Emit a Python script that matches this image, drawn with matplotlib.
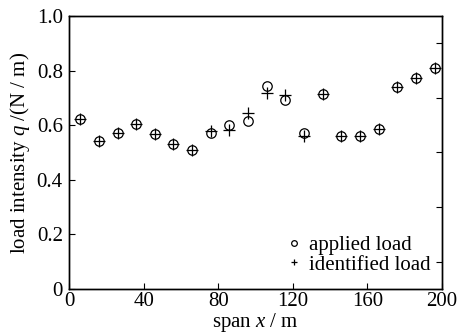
import matplotlib
matplotlib.use("Agg")
import matplotlib.pyplot as plt

plt.rcParams['font.family'] = ['Liberation Serif', 'DejaVu Serif']
plt.rcParams['mathtext.fontset'] = 'custom'
plt.rcParams['mathtext.rm'] = 'Liberation Serif'
plt.rcParams['mathtext.it'] = 'Liberation Serif:italic'

# span positions of the loaded elements (m)
span = [6, 16, 26, 36, 46, 56, 66, 76, 86, 96,
        106, 116, 126, 136, 146, 156, 166, 176, 186, 196]

# load applied to the structure (N/m)
applied = [0.623, 0.543, 0.572, 0.604, 0.566, 0.531, 0.510, 0.573, 0.599, 0.617,
           0.745, 0.693, 0.571, 0.714, 0.562, 0.562, 0.585, 0.739, 0.772, 0.811]

# load recovered by the identification (N/m)
identified = [0.623, 0.543, 0.572, 0.604, 0.566, 0.531, 0.510, 0.580, 0.582, 0.644,
              0.719, 0.711, 0.559, 0.714, 0.562, 0.562, 0.585, 0.739, 0.772, 0.811]

fig = plt.figure(figsize=(4.61, 3.33), dpi=100)
ax = fig.add_axes([0.1497, 0.1321, 0.8091, 0.8199])

ax.plot(span, applied, 'o', ms=6.8, mfc='none', mec='black', mew=0.9, label='applied load')
ax.plot(span, identified, '+', ms=8.0, color='black', mew=0.9, label='identified load')

ax.set_xlim(0, 200)
ax.set_ylim(0, 1.0)
ax.set_xticks([0, 40, 80, 120, 160, 200])
ax.set_yticks([0, 0.2, 0.4, 0.6, 0.8, 1.0])
ax.set_yticklabels(['0', '0.2', '0.4', '0.6', '0.8', '1.0'])
ax.tick_params(direction='in', length=4.5, width=0.8, labelsize=15,
               top=False, right=False)
ax.tick_params(axis='x', pad=2)
ax.tick_params(axis='y', pad=4.5)

# right-hand axis only carries the odd tenths
ax2 = ax.twinx()
ax2.set_ylim(0, 1.0)
ax2.set_yticks([0.1, 0.3, 0.5, 0.7, 0.9])
ax2.tick_params(direction='in', length=4.5, width=0.8, labelright=False)

for a in (ax, ax2):
    for s in a.spines.values():
        s.set_linewidth(1.0)

ax.set_xlabel('span $x$ / m', fontsize=15, labelpad=0)
ax.set_ylabel('load intensity $q$ /(N / m)', fontsize=15, labelpad=3)

ax.legend(loc='lower right', bbox_to_anchor=(0.97, 0.053), frameon=False,
          fontsize=15, markerscale=0.6, handlelength=0.7, handletextpad=0.4,
          labelspacing=0.0, borderpad=0, borderaxespad=0)

fig.savefig('out.png', dpi=100)
